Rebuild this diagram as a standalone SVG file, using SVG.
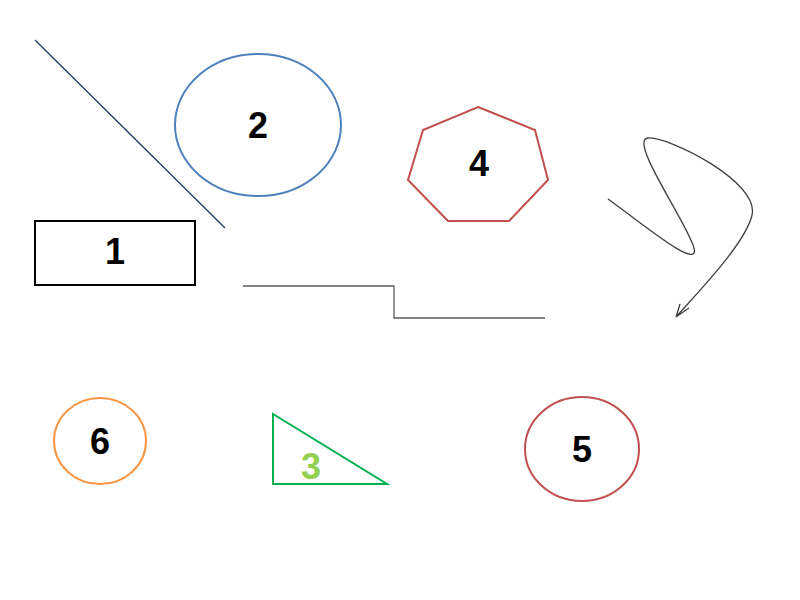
<svg xmlns="http://www.w3.org/2000/svg" width="800" height="600" viewBox="0 0 800 600">
<style>
.lbl{font-family:"Liberation Sans",Arial,sans-serif;font-weight:bold;font-size:36px;text-anchor:middle;fill:#000}
.sh{fill:none;stroke-width:2}
</style>
<rect width="800" height="600" fill="#fff"/>
<g id="connectors">
<line x1="35" y1="40" x2="225" y2="228" stroke="#1F3864" stroke-width="1.3"/>
<polyline points="243,286 394,286 394,318 545,318" fill="none" stroke="#595959" stroke-width="1.3"/>
<path d="M608,199 C640,222 700,272 694,248 C688,224 628,140 648,138 C668,136 760,182 752,215 C746,242 702,288 676,317 M676,317 L680,304 M676,317 L689,308" fill="none" stroke="#404040" stroke-width="1.3"/>
</g>
<g id="node1">
<rect x="35" y="221" width="160" height="64" class="sh" stroke="#000"/>
<text x="115" y="264" class="lbl">1</text>
</g>
<g id="node2">
<ellipse cx="258" cy="125" rx="83" ry="71" class="sh" stroke="#4F81BD"/>
<text x="258" y="138" class="lbl">2</text>
</g>
<g id="node4">
<polygon points="478,107 535,130 548,180 509,221 448,221 408,180 423,130" class="sh" stroke="#C0504D"/>
<text x="479" y="176" class="lbl">4</text>
</g>
<g id="node6">
<ellipse cx="100" cy="441" rx="46" ry="43" class="sh" stroke="#F79646"/>
<text x="100" y="454" class="lbl">6</text>
</g>
<g id="node3">
<polygon points="273,414 273,484 387,484" class="sh" stroke="#00B050"/>
<text x="311" y="479" class="lbl" style="fill:#92D050">3</text>
</g>
<g id="node5">
<ellipse cx="582" cy="449" rx="57" ry="52" class="sh" stroke="#C0504D"/>
<text x="582" y="462" class="lbl">5</text>
</g>
</svg>
